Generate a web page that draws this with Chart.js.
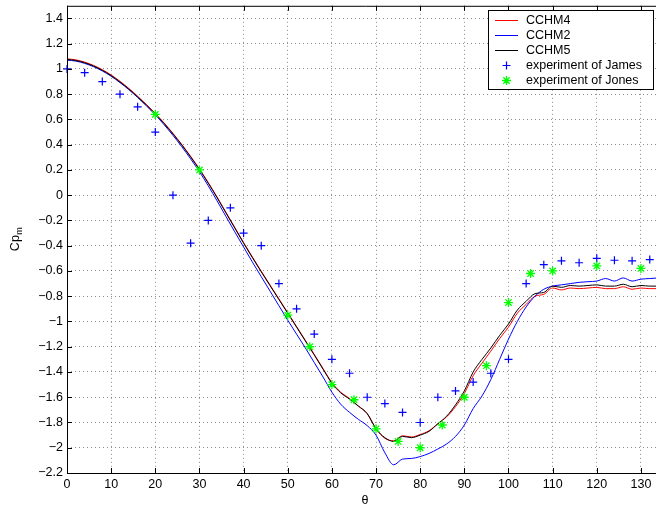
<!DOCTYPE html>
<html>
<head>
<meta charset="utf-8">
<script src="https://cdn.jsdelivr.net/npm/chart.js@4"></script>
<style>
  html, body { margin: 0; padding: 0; background: #fff; overflow: hidden; }
  canvas { display: block; }
</style>
</head>
<body>
<canvas id="cpChart" width="670" height="508"></canvas>
<script>
// simulated curves, sampled every 2 degrees
const thetaSim = [0, 2, 4, 6, 8, 10, 12, 14, 16, 18, 20, 22, 24, 26, 28, 30, 32, 34, 36, 38,
    40, 42, 44, 46, 48, 50, 52, 54, 56, 58, 60, 62, 64, 66, 68, 70, 72, 74, 76, 78,
    80, 82, 84, 86, 88, 90, 92, 94, 96, 98, 100, 102, 104, 106, 108, 110, 112, 114, 116, 118,
    120, 122, 124, 126, 128, 130, 132, 134];

const cchm4 = [1.08, 1.072, 1.054, 1.028, 0.994, 0.952, 0.902, 0.846, 0.784, 0.718, 0.648, 0.572, 0.49, 0.402, 0.308, 0.208, 0.1, -0.015, -0.135, -0.255,
    -0.375, -0.49, -0.602, -0.712, -0.821, -0.93, -1.04, -1.15, -1.26, -1.373, -1.484, -1.56, -1.61, -1.67, -1.73, -1.85, -1.925, -1.945, -1.905, -1.915,
    -1.895, -1.865, -1.81, -1.755, -1.675, -1.57, -1.43, -1.33, -1.235, -1.135, -1.045, -0.935, -0.865, -0.8, -0.785, -0.735, -0.75, -0.735, -0.74, -0.735,
    -0.73, -0.74, -0.74, -0.725, -0.745, -0.735, -0.74, -0.74];

const cchm2 = [1.07, 1.062, 1.044, 1.018, 0.984, 0.942, 0.892, 0.836, 0.774, 0.707, 0.636, 0.558, 0.474, 0.384, 0.288, 0.186, 0.074, -0.045, -0.168, -0.29,
    -0.41, -0.53, -0.645, -0.76, -0.875, -0.99, -1.1, -1.21, -1.325, -1.44, -1.56, -1.655, -1.72, -1.775, -1.825, -1.9, -2.04, -2.135, -2.09, -2.085,
    -2.07, -2.045, -2.01, -1.97, -1.91, -1.82, -1.69, -1.59, -1.46, -1.3, -1.14, -1.0, -0.885, -0.8, -0.745, -0.72, -0.71, -0.7, -0.69, -0.685,
    -0.68, -0.66, -0.68, -0.655, -0.68, -0.665, -0.66, -0.655];

const cchm5 = [1.075, 1.067, 1.049, 1.023, 0.989, 0.947, 0.897, 0.841, 0.779, 0.713, 0.643, 0.567, 0.485, 0.397, 0.303, 0.203, 0.095, -0.02, -0.14, -0.26,
    -0.38, -0.495, -0.607, -0.717, -0.826, -0.935, -1.045, -1.155, -1.265, -1.378, -1.489, -1.565, -1.615, -1.67, -1.73, -1.85, -1.92, -1.95, -1.91, -1.92,
    -1.9, -1.87, -1.81, -1.75, -1.66, -1.55, -1.4, -1.3, -1.21, -1.11, -1.02, -0.91, -0.84, -0.78, -0.77, -0.72, -0.73, -0.715, -0.72, -0.715,
    -0.71, -0.72, -0.72, -0.705, -0.725, -0.715, -0.72, -0.72];

// experiments
const thetaJames = [0, 4, 8, 12, 16, 20, 24, 28, 32, 37, 40, 44, 48, 52, 56, 60, 64, 68, 72, 76,
    80, 84, 88, 92, 96, 100, 104, 108, 112, 116, 120, 124, 128, 132];
const cpJames = [1.0, 0.97, 0.9, 0.8, 0.7, 0.5, 0.0, -0.38, -0.2, -0.1, -0.3, -0.4, -0.7, -0.9, -1.1, -1.3, -1.41, -1.6, -1.65, -1.72,
    -1.8, -1.6, -1.55, -1.48, -1.41, -1.3, -0.7, -0.55, -0.52, -0.535, -0.5, -0.515, -0.52, -0.51];

const thetaJones = [20, 30, 50, 55, 60, 65, 70, 75, 80, 85, 90, 95, 100, 105, 110, 120, 130];
const cpJones = [0.64, 0.2, -0.95, -1.2, -1.5, -1.62, -1.85, -1.95, -2.0, -1.82, -1.6, -1.35, -0.85, -0.62, -0.6, -0.56, -0.58];

const xTicks = [0, 10, 20, 30, 40, 50, 60, 70, 80, 90, 100, 110, 120, 130];
const yTicks = [-2.2, -2, -1.8, -1.6, -1.4, -1.2, -1, -0.8, -0.6, -0.4, -0.2, 0, 0.2, 0.4, 0.6, 0.8, 1, 1.2, 1.4];

const FONT = "'Liberation Sans', Arial, Helvetica, sans-serif";

function pts(xs, ys) {
    return xs.map((x, i) => ({ x: x, y: ys[i] }));
}

function markerPath(ctx, style, x, y, r) {
    ctx.beginPath();
    ctx.moveTo(x - r, y); ctx.lineTo(x + r, y);
    ctx.moveTo(x, y - r); ctx.lineTo(x, y + r);
    if (style === 'star') {
        const d = r * Math.SQRT1_2;
        ctx.moveTo(x - d, y - d); ctx.lineTo(x + d, y + d);
        ctx.moveTo(x - d, y + d); ctx.lineTo(x + d, y - d);
    }
    ctx.stroke();
}

// axes frame, inward ticks, y label with subscript, legend
const matlabAxes = {
    id: 'matlabAxes',
    afterDatasetsDraw(chart) {
        const { ctx, chartArea: a, scales } = chart;
        ctx.save();
        ctx.strokeStyle = '#000';
        ctx.lineWidth = 1;
        ctx.beginPath();
        ctx.moveTo(a.left + 0.5, a.top + 0.5); ctx.lineTo(a.right + 0.5, a.top + 0.5);
        ctx.moveTo(a.left + 0.5, a.top); ctx.lineTo(a.left + 0.5, a.bottom + 0.5);
        ctx.moveTo(a.left, a.bottom + 0.5); ctx.lineTo(a.right + 0.5, a.bottom + 0.5);
        ctx.moveTo(a.right + 0.5, a.top); ctx.lineTo(a.right + 0.5, a.bottom + 0.5);
        const tl = 5;
        xTicks.forEach(v => {
            const px = Math.round(scales.x.getPixelForValue(v)) + 0.5;
            ctx.moveTo(px, a.bottom); ctx.lineTo(px, a.bottom - tl);
            ctx.moveTo(px, a.top); ctx.lineTo(px, a.top + tl);
        });
        yTicks.forEach(v => {
            const py = Math.round(scales.y.getPixelForValue(v)) + 0.5;
            ctx.moveTo(a.left, py); ctx.lineTo(a.left + tl, py);
            ctx.moveTo(a.right, py); ctx.lineTo(a.right - tl, py);
        });
        ctx.stroke();

        // y axis label "Cp" with subscript "m"
        ctx.translate(16, (a.top + a.bottom) / 2);
        ctx.rotate(-Math.PI / 2);
        ctx.fillStyle = '#000';
        ctx.textBaseline = 'middle';
        ctx.font = '12.5px ' + FONT;
        const w1 = ctx.measureText('Cp').width;
        ctx.font = '9px ' + FONT;
        const w2 = ctx.measureText('m').width;
        const x0 = -(w1 + w2) / 2;
        ctx.font = '12.5px ' + FONT;
        ctx.fillText('Cp', x0, 0);
        ctx.font = '9px ' + FONT;
        ctx.fillText('m', x0 + w1 + 0.5, 4);
        ctx.restore();
    },
    afterDraw(chart) {
        const ctx = chart.ctx;
        const bx = 488.5, by = 10.5, bw = 165, bh = 79;
        ctx.save();
        ctx.fillStyle = '#fff';
        ctx.fillRect(bx, by, bw, bh);
        ctx.strokeStyle = '#000';
        ctx.lineWidth = 1;
        ctx.strokeRect(bx, by, bw, bh);
        ctx.font = '12.5px ' + FONT;
        ctx.textBaseline = 'middle';
        chart.data.datasets.forEach((ds, row) => {
            const y = Math.round(19.5 + row * 15.1) + 0.5;
            ctx.strokeStyle = ds.borderColor;
            ctx.lineWidth = 1;
            if (ds.showLine) {
                ctx.beginPath();
                ctx.moveTo(495, y); ctx.lineTo(518, y);
                ctx.stroke();
            } else {
                ctx.lineWidth = ds.borderWidth;
                markerPath(ctx, ds.pointStyle, 506.5, y, ds.pointRadius);
            }
            ctx.fillStyle = '#000';
            ctx.fillText(ds.label, 526, y);
        });
        ctx.restore();
    }
};

const ctx = document.getElementById('cpChart').getContext('2d');

new Chart(ctx, {
    type: 'scatter',
    data: {
        datasets: [{
            label: 'CCHM4',
            data: pts(thetaSim, cchm4),
            showLine: true,
            borderColor: '#ff0000',
            borderWidth: 1,
            pointRadius: 0,
            cubicInterpolationMode: 'monotone',
            order: 4
        }, {
            label: 'CCHM2',
            data: pts(thetaSim, cchm2),
            showLine: true,
            borderColor: '#0000ff',
            borderWidth: 1,
            pointRadius: 0,
            cubicInterpolationMode: 'monotone',
            order: 3
        }, {
            label: 'CCHM5',
            data: pts(thetaSim, cchm5),
            showLine: true,
            borderColor: '#000000',
            borderWidth: 1,
            pointRadius: 0,
            cubicInterpolationMode: 'monotone',
            order: 2
        }, {
            label: 'experiment of James',
            data: pts(thetaJames, cpJames),
            showLine: false,
            pointStyle: 'cross',
            pointRadius: 4,
            borderColor: '#0000ff',
            borderWidth: 1.2,
            clip: false,
            order: 1
        }, {
            label: 'experiment of Jones',
            data: pts(thetaJones, cpJones),
            showLine: false,
            pointStyle: 'star',
            pointRadius: 4.5,
            borderColor: '#00ff00',
            borderWidth: 1.3,
            clip: false,
            order: 0
        }]
    },
    options: {
        responsive: false,
        animation: false,
        layout: {
            padding: { top: 3, right: 7, left: 0, bottom: 0 }
        },
        plugins: {
            legend: { display: false },
            tooltip: { enabled: false }
        },
        scales: {
            x: {
                type: 'linear',
                min: 0,
                max: 135,
                afterBuildTicks: s => { s.ticks = xTicks.map(v => ({ value: v })); },
                afterFit: s => { s.height = 35; s.paddingLeft = 0; s.paddingRight = 0; },
                grid: {
                    color: 'rgba(0, 0, 0, 0.45)',
                    lineWidth: 1,
                    drawTicks: false
                },
                border: { display: false, dash: [1, 3] },
                ticks: {
                    color: '#000',
                    font: { family: FONT, size: 12.5 },
                    padding: 4,
                    maxRotation: 0,
                    autoSkip: false
                },
                title: {
                    display: true,
                    text: 'θ',
                    color: '#000',
                    font: { family: FONT, size: 12.5 },
                    padding: { top: 0, bottom: 0 }
                }
            },
            y: {
                type: 'linear',
                min: -2.2,
                max: 1.5,
                afterBuildTicks: s => { s.ticks = yTicks.map(v => ({ value: v })); },
                afterFit: s => { s.width = 67; s.paddingTop = 0; s.paddingBottom = 0; },
                grid: {
                    color: 'rgba(0, 0, 0, 0.45)',
                    lineWidth: 1,
                    drawTicks: false
                },
                border: { display: false, dash: [1, 3] },
                ticks: {
                    color: '#000',
                    font: { family: FONT, size: 12.5 },
                    padding: 4,
                    autoSkip: false,
                    callback: v => String(v).replace('-', '\u2212')
                }
            }
        }
    },
    plugins: [matlabAxes]
});
</script>
</body>
</html>
